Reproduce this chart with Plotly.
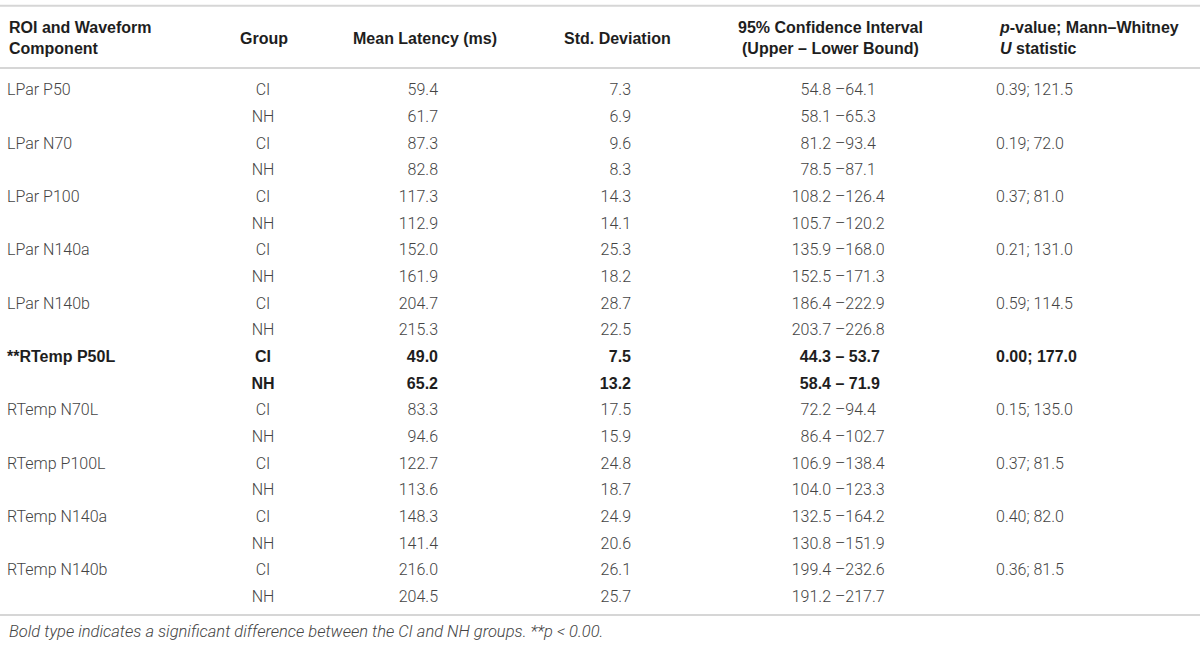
import plotly.graph_objects as go

# ---------------------------------------------------------------
# TABLE DATA

components = ["LPar P50", "LPar N70", "LPar P100", "LPar N140a", "LPar N140b",
              "**RTemp P50L", "RTemp N70L", "RTemp P100L", "RTemp N140a", "RTemp N140b"]
groups = ["CI", "NH"]
significant = [False, False, False, False, False, True, False, False, False, False]

mean_ci = [59.4, 87.3, 117.3, 152.0, 204.7, 49.0, 83.3, 122.7, 148.3, 216.0]
mean_nh = [61.7, 82.8, 112.9, 161.9, 215.3, 65.2, 94.6, 113.6, 141.4, 204.5]
sd_ci = [7.3, 9.6, 14.3, 25.3, 28.7, 7.5, 17.5, 24.8, 24.9, 26.1]
sd_nh = [6.9, 8.3, 14.1, 18.2, 22.5, 13.2, 15.9, 18.7, 20.6, 25.7]
low_ci = [54.8, 81.2, 108.2, 135.9, 186.4, 44.3, 72.2, 106.9, 132.5, 199.4]
high_ci = [64.1, 93.4, 126.4, 168.0, 222.9, 53.7, 94.4, 138.4, 164.2, 232.6]
low_nh = [58.1, 78.5, 105.7, 152.5, 203.7, 58.4, 86.4, 104.0, 130.8, 191.2]
high_nh = [65.3, 87.1, 120.2, 171.3, 226.8, 71.9, 102.7, 123.3, 151.9, 217.7]
p_vals = [0.39, 0.19, 0.37, 0.21, 0.59, 0.00, 0.15, 0.37, 0.40, 0.36]
u_stat = [121.5, 72.0, 81.0, 131.0, 114.5, 177.0, 135.0, 81.5, 82.0, 81.5]

headers = ["<b>ROI and Waveform<br>Component</b>", "<b>Group</b>",
           "<b>Mean Latency (ms)</b>", "<b>Std. Deviation</b>",
           "<b>95% Confidence Interval<br>(Upper \u2013 Lower Bound)</b>",
           "<b><i>p</i>-value; Mann\u2013Whitney<br><i>U</i> statistic</b>"]
footnote = "<i>Bold type indicates a significant difference between the CI and NH groups. **p < 0.00.</i>"

# ---------------------------------------------------------------
# BUILD THE ROWS (two per component)

rows = list(range(len(components) * 2))
bold = []
col_comp, col_group, col_mean, col_sd, col_low, col_high, col_p = [], [], [], [], [], [], []
for i, name in enumerate(components):
    sep = " \u2013 " if significant[i] else " \u2013"
    bold += [significant[i]] * 2
    col_comp += [name, ""]
    col_group += groups
    col_mean += [f"{mean_ci[i]:.1f}", f"{mean_nh[i]:.1f}"]
    col_sd += [f"{sd_ci[i]:.1f}", f"{sd_nh[i]:.1f}"]
    col_low += [f"{low_ci[i]:.1f}", f"{low_nh[i]:.1f}"]
    col_high += [sep + f"{high_ci[i]:.1f}", sep + f"{high_nh[i]:.1f}"]
    col_p += [f"{p_vals[i]:.2f}; {u_stat[i]:.1f}", ""]

BODY = dict(family="Roboto", size=16, color="#444444", weight=300)
BOLD = dict(family="Liberation Sans", size=16, color="#1e1e1e", weight="bold")

# column anchor (x) and text position
columns = [
    (col_comp, 7, "middle right"),
    (col_group, 263, "middle center"),
    (col_mean, 438, "middle left"),
    (col_sd, 631, "middle left"),
    (col_low, 831, "middle left"),
    (col_high, 831, "middle right"),
    (col_p, 996, "middle right"),
]

fig = go.Figure()
for texts, x, pos in columns:
    for flag, fnt in [(False, BODY), (True, BOLD)]:
        idx = [r for r in rows if bold[r] == flag]
        fig.add_trace(go.Scatter(x=[x] * len(idx), y=idx, mode="text",
                                 text=[texts[r] for r in idx],
                                 textposition=pos, textfont=fnt,
                                 hoverinfo="skip", showlegend=False))

# header
head_x = [(7, "left"), (264, "center"), (425, "center"), (617, "center"),
          (830, "center"), (997, "left")]
for h, (x, al) in zip(headers, head_x):
    fig.add_annotation(x=x, y=-2.0, text=h, showarrow=False, xanchor=al,
                       align=al, yanchor="middle",
                       font=dict(family="Liberation Sans", size=16, color="#1e1e1e"))

fig.add_annotation(x=7, y=20.27, text=footnote, showarrow=False, xanchor="left",
                   yanchor="middle",
                   font=dict(family="Roboto", size=16.5, color="#444444", weight=300))

# rules
for yl in [-3.219, -0.882, 19.644]:
    fig.add_shape(type="line", x0=0, x1=1200, y0=yl, y1=yl,
                  line=dict(color="#d6d6d6", width=2))

fig.update_xaxes(range=[0, 1200], visible=False, fixedrange=True)
fig.update_yaxes(range=[20.806, -3.433], visible=False, fixedrange=True)
fig.update_layout(width=1200, height=646, margin=dict(l=0, r=0, t=0, b=0),
                  plot_bgcolor="white", paper_bgcolor="white")

fig.write_html("out.html", config={"displayModeBar": False},
               post_script="document.body.style.margin='0';")
